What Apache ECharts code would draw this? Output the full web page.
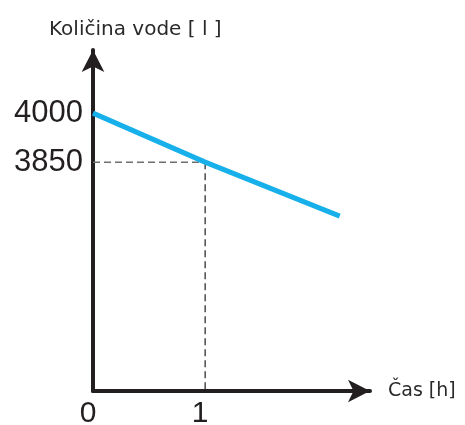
<!DOCTYPE html>
<html>
<head>
<meta charset="utf-8">
<script src="https://cdn.jsdelivr.net/npm/echarts@6/dist/echarts.min.js"></script>
<style>
  html, body { margin: 0; padding: 0; background: #fff; }
  #chart { width: 465px; height: 425px; }
</style>
</head>
<body>
<div id="chart"></div>
<script>
// Time in hours and amount of water in litres
const hours = [0, 1, 2.2];
const litres = [4000, 3850, 3685];

// Reading at one hour, shown with dashed guides
const markHour = 1;
const markLitres = 3850;

// Labelled ticks
const xTicks = [0, 1];
const yTicks = [3850, 4000];

const yTitle = 'Količina vode [ l ]';
const xTitle = 'Čas [h]';

const axisColor = '#231f20';
const textFont = '"DejaVu Sans", sans-serif';
const numFont = '"Liberation Sans", Arial, sans-serif';

const chart = echarts.init(document.getElementById('chart'), null, { renderer: 'canvas' });

const yMin = 3150;

chart.setOption({
  animation: false,
  backgroundColor: '#ffffff',
  title: {
    text: yTitle,
    left: 44,
    top: 15,
    textStyle: { fontFamily: textFont, fontSize: 20, fontWeight: 'normal', color: '#2a2a2a' }
  },
  grid: {
    left: 93, right: 95, top: 50, bottom: 34,
    containLabel: false,
    outerBoundsMode: 'none'
  },
  xAxis: {
    type: 'value',
    min: 0,
    max: 2.47,
    name: xTitle,
    nameLocation: 'end',
    nameGap: 18,
    nameTextStyle: { fontFamily: textFont, fontSize: 19, color: '#2a2a2a', padding: [12, 0, 0, 0] },
    splitLine: { show: false },
    axisTick: { show: false },
    axisLine: {
      show: true,
      symbol: ['none', 'arrow'],
      symbolSize: [17, 22],
      lineStyle: { color: axisColor, width: 4 }
    },
    axisLabel: {
      customValues: xTicks,
      margin: 8,
      fontFamily: numFont,
      fontSize: 30,
      color: axisColor,
      padding: [0, 10, 0, 0]
    }
  },
  yAxis: {
    type: 'value',
    min: yMin,
    max: 4193,
    splitLine: { show: false },
    axisTick: { show: false },
    axisLine: {
      show: true,
      symbol: ['none', 'arrow'],
      symbolSize: [17, 22],
      lineStyle: { color: axisColor, width: 4 }
    },
    axisLabel: {
      customValues: yTicks,
      formatter: (v) => String(v),
      margin: 10,
      fontFamily: numFont,
      fontSize: 31,
      color: axisColor,
      padding: [4, 0, 0, 0]
    }
  },
  series: [
    {
      name: 'guide-h',
      type: 'line',
      data: [[0, markLitres], [markHour, markLitres]],
      symbol: 'none',
      silent: true,
      z: 1,
      lineStyle: { color: '#6e6e6e', width: 1.5, type: [7, 4] }
    },
    {
      name: 'guide-v',
      type: 'line',
      data: [[markHour, markLitres], [markHour, yMin]],
      symbol: 'none',
      silent: true,
      z: 1,
      lineStyle: { color: '#2e2e2e', width: 1.3, type: [7, 4] }
    },
    {
      name: 'voda',
      type: 'line',
      data: hours.map((h, i) => [h, litres[i]]),
      symbol: 'none',
      z: 3,
      lineStyle: { color: '#17b0ea', width: 5 }
    }
  ]
});
</script>
</body>
</html>
